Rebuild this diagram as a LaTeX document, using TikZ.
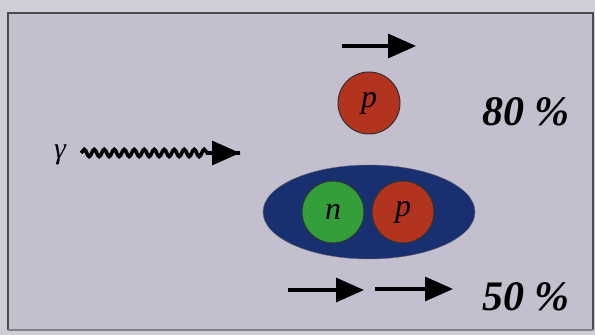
\documentclass[tikz,border=0pt]{standalone}
\usepackage{fontspec}
\setmainfont{Liberation Serif}
\usetikzlibrary{arrows.meta,decorations.pathmorphing,shapes.geometric}
\definecolor{bgLav}{RGB}{196,191,207}
\definecolor{protonRed}{RGB}{178,52,30}
\definecolor{neutronGreen}{RGB}{52,158,58}
\definecolor{deutBlue}{RGB}{24,48,112}

\begin{document}
\begin{tikzpicture}[x=1pt,y=1pt,
    nucleon/.style={circle,draw=black!80,line width=1pt,minimum size=62pt,inner sep=0pt,font=\fontsize{32}{32}\selectfont\itshape},
    mom/.style={line width=3.2pt,-{Triangle[length=28pt,width=24pt]}},
    pct/.style={font=\fontsize{42}{42}\selectfont\bfseries\itshape}]
      \fill[bgLav!80!white] (0,0) rectangle (595,335);
      \fill[bgLav] (8,5) rectangle (593,322);
      \draw[black!70,line width=1.8pt] (8,5) -- (8,322) -- (593,322) -- (593,5);
      \draw[black!50,line width=1.2pt] (8,5) -- (593,5);
      \node[nucleon,fill=protonRed] (pfree) at (369,232) {p};
      \node[pct] (yieldA) at (526,223) {80 \%};
      \node[ellipse,fill=deutBlue,draw=black!60,minimum width=212pt,minimum height=94pt] (deut) at (369,123) {};
      \node[nucleon,fill=neutronGreen] (nbound) at (333,123) {n};
      \node[nucleon,fill=protonRed] (pbound) at (403,123) {p};
      \node[pct] (yieldB) at (526,38) {50 \%};
      \node[font=\fontsize{30}{30}\selectfont\itshape,inner sep=1pt] (gam) at (60,180) {γ};
      \coordinate (gamEnd) at (240,182);
      \draw[line width=3.6pt,decorate,decoration={snake,amplitude=3.6pt,segment length=10pt,post length=32pt}]
        (gam.east) ++(14,2) coordinate (gamStart) -- (gamEnd);
      \draw[mom] (gamEnd) ++(-34,0) -- (gamEnd);
      \coordinate (topA) at (342,289);
      \coordinate (topB) at (416,289);
      \coordinate (botA) at (288,45);
      \coordinate (botB) at (364,45);
      \coordinate (botC) at (375,46);
      \coordinate (botD) at (453,46);
      \draw[mom] (topA) -- (topB);
      \draw[mom] (botA) -- (botB);
      \draw[mom] (botC) -- (botD);
    \end{tikzpicture}
\end{document}
